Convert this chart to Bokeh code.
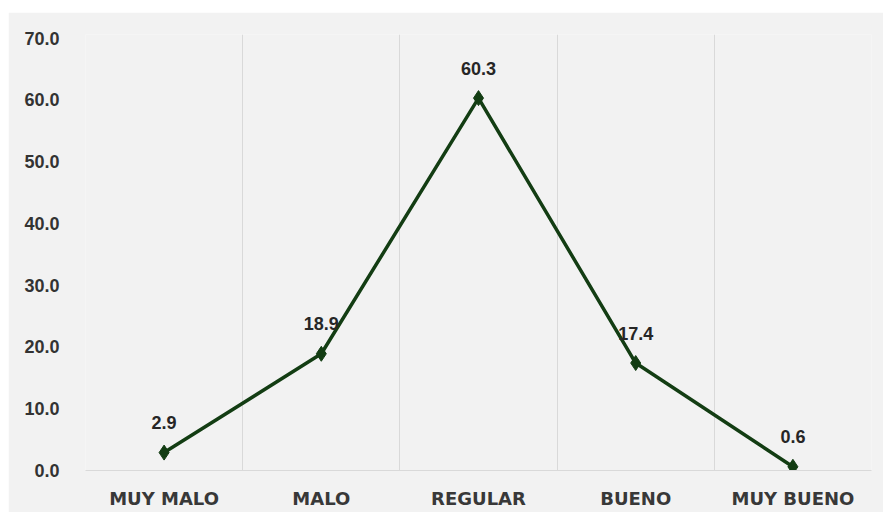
from bokeh.plotting import figure
from bokeh.models import ColumnDataSource, FixedTicker, Range1d, NumeralTickFormatter
from bokeh.core.properties import value
from bokeh.embed import file_html
from bokeh.resources import INLINE

categories = ["MUY MALO", "MALO", "REGULAR", "BUENO", "MUY BUENO"]
values = [2.9, 18.9, 60.3, 17.4, 0.6]
y_ticks = [0, 10, 20, 30, 40, 50, 60, 70]

positions = [i + 0.5 for i in range(len(categories))]
source = ColumnDataSource(dict(
    x=positions,
    y=values,
    label=[f"{v:.1f}" for v in values],
))

p = figure(
    width=875, height=500,
    x_range=Range1d(0, len(categories)),
    y_range=Range1d(0, 70.6),
    output_backend="svg", toolbar_location=None,
    min_border_left=77, min_border_right=12,
    min_border_top=22, min_border_bottom=42,
)
p.margin = (12, 0, 5, 8)

bg = "#f2f2f2"
p.background_fill_color = bg
p.border_fill_color = bg
p.outline_line_color = None

# vertical separators between categories, no horizontal grid
p.xgrid.ticker = FixedTicker(ticks=list(range(len(categories) + 1)))
p.xgrid.grid_line_color = "#d9d9d9"
p.xgrid.grid_line_width = 1
p.ygrid.grid_line_color = None

# y axis
p.yaxis.ticker = FixedTicker(ticks=y_ticks)
p.yaxis.formatter = NumeralTickFormatter(format="0.0")
p.yaxis.axis_line_color = None
p.yaxis.major_tick_line_color = None
p.yaxis.minor_tick_line_color = None
p.yaxis.major_label_standoff = 20
p.yaxis.major_label_text_font = "Liberation Sans"
p.yaxis.major_label_text_font_style = "bold"
p.yaxis.major_label_text_font_size = "18px"
p.yaxis.major_label_text_color = "#333333"

# x axis with category names at the centres
p.xaxis.ticker = FixedTicker(ticks=positions)
p.xaxis.major_label_overrides = {pos: c for pos, c in zip(positions, categories)}
p.xaxis.axis_line_color = "#d9d9d9"
p.xaxis.major_tick_line_color = None
p.xaxis.minor_tick_line_color = None
p.xaxis.major_label_standoff = 11
p.xaxis.major_label_text_font = "DejaVu Sans"
p.xaxis.major_label_text_font_style = "bold"
p.xaxis.major_label_text_font_size = "18px"
p.xaxis.major_label_text_color = "#383838"

line_color = "#133d13"
p.line("x", "y", source=source, line_color=line_color, line_width=3.5)
p.scatter("x", "y", source=source, marker="diamond", size=15,
          fill_color=line_color, line_color=line_color)

p.text("x", "y", text="label", source=source,
       text_align="center", text_baseline="middle", y_offset=-30,
       text_font=value("Liberation Sans"), text_font_style="bold",
       text_font_size="18px", text_color="#262626")

open("out.html", "w").write(file_html(p, INLINE))
